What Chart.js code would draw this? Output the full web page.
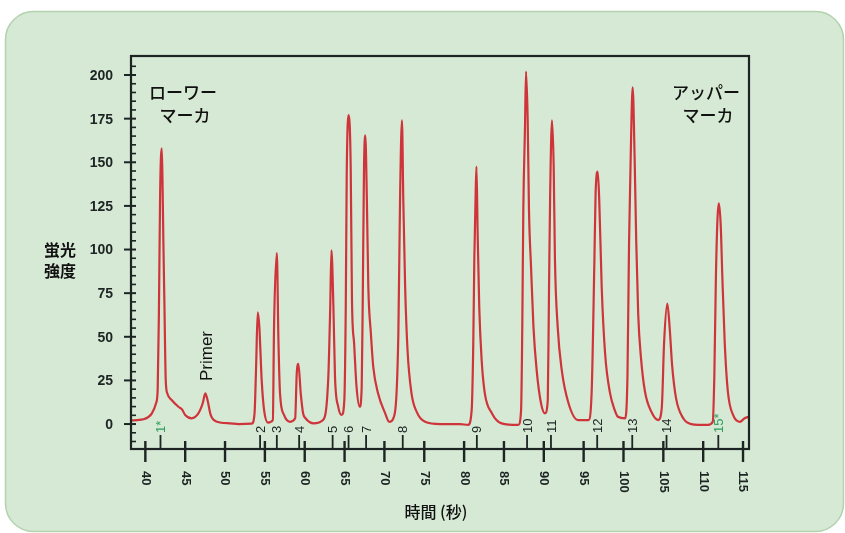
<!DOCTYPE html>
<html>
<head>
<meta charset="utf-8">
<script src="https://cdn.jsdelivr.net/npm/chart.js@4.4.0/dist/chart.umd.min.js"></script>
<style>
  html, body { margin: 0; padding: 0; background: #ffffff; }
  #wrap { width: 845px; height: 533px; }
</style>
</head>
<body>
<div id="wrap"><canvas id="myChart" width="845" height="533"></canvas></div>
<script>
// 電気泳動の波形 (時間[秒], 蛍光強度)
const times = [
  38.2, 39.0, 39.75, 40.8, 41.35, 41.55, 41.7, 41.85, 41.95, 42.06, 42.15, 42.26, 42.4, 42.56, 42.76,
  43.3, 44.15, 44.6, 45.0, 45.8, 46.65, 47.2, 47.53, 47.8, 48.2, 49.0, 50.6, 51.7, 53.35,
  53.7, 53.9, 54.1, 54.3, 54.6, 54.9, 55.4, 56.0, 56.15, 56.5, 56.7, 56.9, 57.4, 58.15,
  58.8, 59.0, 59.2, 59.5, 59.8, 60.1, 61.1, 62.3, 62.96, 63.2, 63.35, 63.6, 63.8, 64.2,
  64.65, 64.97, 65.15, 65.27, 65.52, 65.77, 65.93, 66.2, 66.5, 66.9, 67.15, 67.28, 67.44,
  67.6, 67.8, 67.98, 68.3, 68.6, 69.2, 70.1, 70.6, 71.3, 71.75, 71.96, 72.2, 72.37, 72.6,
  72.9, 73.4, 74.05, 75.1, 77.0, 79.5, 80.5, 80.95, 81.15, 81.28, 81.45, 81.55, 81.7, 81.9,
  82.2, 82.6, 83.5, 84.7, 86.8, 87.15, 87.3, 87.43, 87.64, 87.77, 87.98, 88.14, 88.4, 88.7,
  89.1, 89.65, 90.15, 90.5, 90.65, 90.8, 91.03, 91.24, 91.4, 91.74, 92.25, 93.1, 94.3, 95.6,
  96.0, 96.35, 96.5, 96.77, 96.96, 97.27, 97.7, 98.3, 98.9, 99.3, 100.2, 100.5, 100.7, 100.9,
  101.15, 101.4, 101.6, 101.85, 102.2, 102.7, 103.5, 104.35, 104.8, 105.1, 105.5, 105.8,
  106.1, 106.6, 107.5, 108.5, 110.6, 111.2, 111.4, 111.6, 111.8, 111.97, 112.2, 112.4,
  112.7, 113.1, 113.75, 114.6, 115.2, 115.8
];
const intensity = [
  2, 2.3, 2.7, 6, 12, 20, 63, 130, 152, 158, 140, 105, 67, 25, 17.5,
  13.8, 9.9, 8.4, 5.2, 3.3, 6.1, 11.9, 17.6, 13.8, 5.2, 1.3, 0.4, 0, 0.2,
  6, 33, 64, 56, 25, 8, 0.8, 2.3, 56, 98, 48, 17.6, 5.2, 1.3,
  3.3, 29, 34.5, 17.6, 6, 3.3, 0.4, 2.3, 27, 67, 99.5, 67, 27, 10,
  5.2, 13.8, 67, 143, 177, 147, 71, 46, 21.4, 9.9, 21.4, 71, 147,
  165.5, 128, 78.7, 52, 32.8, 17.6, 6.1, 1.3, 6.1, 52, 128, 174, 128, 78.7,
  42.4, 17.6, 7, 1.3, 0, 0, -0.5, 8, 46, 94, 132, 147.5, 109, 67,
  36.7, 17.6, 6.1, 0.4, -0.5, 8, 55.8, 122.6, 170, 202, 174, 122.6, 90, 55.8,
  31, 11.9, 6.1, 13.8, 75, 132, 174, 147.5, 94, 55.8, 31, 11.9, 2.3, 2.3,
  17.6, 94, 132, 144.6, 128, 78, 40, 18, 8, 4.2, 3.3, 28, 104.5, 152,
  193, 152, 104.5, 62.5, 37.6, 18.5, 7, 2.3, 9, 47, 69, 54.8,
  33.8, 14.7, 3.3, 0, -0.5, 1.3, 28, 85, 118, 126.5, 114, 85,
  47, 18.5, 5.2, 1.3, 3.3, 4.2
];

const xTicks = [40, 45, 50, 55, 60, 65, 70, 75, 80, 85, 90, 95, 100, 105, 110, 115];
const yTicks = [0, 25, 50, 75, 100, 125, 150, 175, 200];
const yMinorTicks = [-10, -5, 5, 10, 15, 20, 30, 35, 40, 45, 55, 60, 65, 70, 80, 85, 90, 95,
  105, 110, 115, 120, 130, 135, 140, 145, 155, 160, 165, 170, 180, 185, 190, 195, 205];

// ピーク番号
const peakNames = ["1*", "2", "3", "4", "5", "6", "7", "8", "9", "10", "11", "12", "13", "14", "15*"];
const peakTimes = [41.9, 54.4, 56.5, 59.3, 63.5, 65.5, 67.7, 72.3, 81.6, 87.9, 90.9, 96.7, 101.1, 105.4, 111.9];
const primerTime = 47.5;

const ink = "#1c2424";
const green = "#2e9c5e";

const decor = {
  id: "decor",
  beforeDraw(chart) {
    const ctx = chart.ctx;
    ctx.save();
    ctx.fillStyle = "#ffffff";
    ctx.fillRect(0, 0, chart.width, chart.height);
    // カード背景
    ctx.beginPath();
    ctx.roundRect(5.5, 11.5, 838, 520, 28);
    ctx.fillStyle = "#d6e9d4";
    ctx.fill();
    ctx.strokeStyle = "#b2d3ae";
    ctx.lineWidth = 1.5;
    ctx.stroke();
    ctx.restore();
  },
  afterDraw(chart) {
    const ctx = chart.ctx;
    const xs = chart.scales.x;
    const ys = chart.scales.y;
    const a = chart.chartArea;
    ctx.save();

    // 枠
    ctx.strokeStyle = ink;
    ctx.lineWidth = 2.2;
    ctx.strokeRect(a.left, a.top, a.right - a.left, a.bottom - a.top);

    // y 目盛
    ctx.lineWidth = 2;
    yTicks.forEach(v => {
      const y = ys.getPixelForValue(v);
      ctx.beginPath();
      ctx.moveTo(a.left - 7, y);
      ctx.lineTo(a.left + 5, y);
      ctx.stroke();
    });
    ctx.lineWidth = 1.6;
    yMinorTicks.forEach(v => {
      const y = ys.getPixelForValue(v);
      ctx.beginPath();
      ctx.moveTo(a.left, y);
      ctx.lineTo(a.left + 5, y);
      ctx.stroke();
    });
    ctx.fillStyle = ink;
    ctx.font = "bold 14px 'Liberation Sans', Arial, sans-serif";
    ctx.textAlign = "right";
    ctx.textBaseline = "middle";
    yTicks.forEach(v => {
      ctx.fillText(String(v), a.left - 18, ys.getPixelForValue(v) + 1);
    });

    // x 目盛 (時計回りに回転したラベル)
    ctx.lineWidth = 2.4;
    xTicks.forEach(v => {
      const x = xs.getPixelForValue(v);
      ctx.beginPath();
      ctx.moveTo(x, a.bottom - 8);
      ctx.lineTo(x, a.bottom + 13);
      ctx.stroke();
    });
    ctx.font = "bold 13px 'Liberation Sans', Arial, sans-serif";
    xTicks.forEach(v => {
      const x = xs.getPixelForValue(v);
      ctx.save();
      ctx.translate(x, a.bottom + 22);
      ctx.rotate(Math.PI / 2);
      ctx.textAlign = "left";
      ctx.textBaseline = "middle";
      ctx.fillText(String(v), 0, 0);
      ctx.restore();
    });

    // ピーク番号
    ctx.font = "13px 'Liberation Sans', Arial, sans-serif";
    peakNames.forEach((name, i) => {
      const x = xs.getPixelForValue(peakTimes[i]);
      const col = name.indexOf("*") >= 0 ? green : ink;
      ctx.strokeStyle = ink;
      ctx.lineWidth = 1.8;
      ctx.beginPath();
      ctx.moveTo(x, a.bottom - 14);
      ctx.lineTo(x, a.bottom);
      ctx.stroke();
      ctx.save();
      ctx.translate(x + 1, a.bottom - 16);
      ctx.rotate(-Math.PI / 2);
      ctx.fillStyle = col;
      ctx.textAlign = "left";
      ctx.textBaseline = "middle";
      ctx.fillText(name, 0, 0);
      ctx.restore();
    });

    // Primer
    ctx.save();
    ctx.translate(xs.getPixelForValue(primerTime) + 2, 356);
    ctx.rotate(-Math.PI / 2);
    ctx.fillStyle = "#111";
    ctx.font = "17px 'Liberation Sans', Arial, sans-serif";
    ctx.textAlign = "center";
    ctx.textBaseline = "middle";
    ctx.fillText("Primer", 0, 0);
    ctx.restore();

    // マーカ注記
    ctx.fillStyle = "#111";
    ctx.font = "500 17px 'Noto Sans CJK JP', sans-serif";
    ctx.textAlign = "center";
    ctx.textBaseline = "middle";
    ctx.fillText("ローワー", 183, 93);
    ctx.fillText("マーカ", 185, 116);
    ctx.fillText("アッパー", 706, 93);
    ctx.fillText("マーカ", 708, 116);

    // 軸タイトル
    ctx.font = "bold 16px 'Noto Sans CJK JP', sans-serif";
    ctx.fillText("蛍光", 60, 250);
    ctx.fillText("強度", 60, 271);
    ctx.font = "500 16px 'Noto Sans CJK JP', sans-serif";
    ctx.fillText("時間 (秒)", 436, 512);

    ctx.restore();
  }
};

const points = times.map((t, i) => ({ x: t, y: intensity[i] }));

new Chart(document.getElementById("myChart"), {
  type: "line",
  data: {
    datasets: [{
      data: points,
      borderColor: "rgb(206, 52, 58)",
      borderWidth: 2.2,
      pointRadius: 0,
      cubicInterpolationMode: "monotone",
      fill: false
    }]
  },
  options: {
    responsive: false,
    animation: false,
    layout: { padding: { left: 131, top: 56, right: 96, bottom: 84 } },
    scales: {
      x: { type: "linear", min: 38.2, max: 115.75, display: false },
      y: { min: -14.3, max: 210.9, display: false }
    },
    plugins: {
      legend: { display: false },
      tooltip: { enabled: false }
    }
  },
  plugins: [decor]
});
</script>
</body>
</html>
